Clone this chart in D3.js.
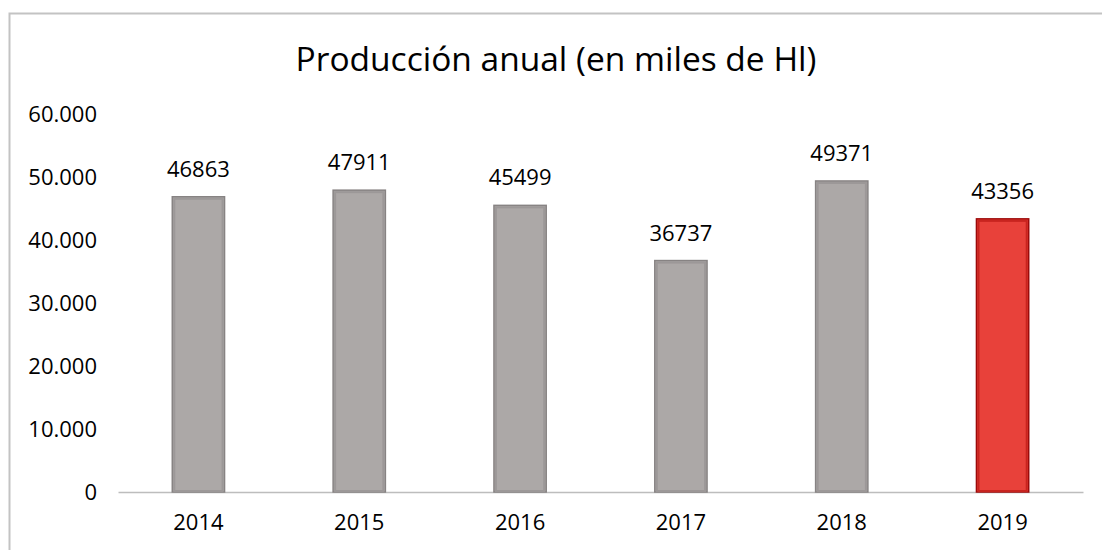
<!DOCTYPE html>
<html><head><meta charset="utf-8">
<script src="https://cdn.jsdelivr.net/npm/d3@7/dist/d3.min.js"></script>
<style>body{margin:0;background:#fff}svg{display:block}text{font-family:"Open Sans","Noto Sans",sans-serif;fill:#000}</style>
</head><body>
<svg id="c" width="1102" height="550"></svg>
<script>
const title = "Producción anual (en miles de Hl)";
const years = ["2014","2015","2016","2017","2018","2019"];
const values = [46863, 47911, 45499, 36737, 49371, 43356];
const yTicks = [0, 10000, 20000, 30000, 40000, 50000, 60000];
const highlight = ["2019"];

const svg = d3.select("#c");
// chart border (top & left visible)
svg.append("path").attr("d", `M9.5,560 V13.5 H1110`).attr("fill","none").attr("stroke","#c3c3c3").attr("stroke-width",2);

const x = d3.scaleBand().domain(years).range([118, 1083]).paddingInner(0.675).paddingOuter(0.3375);
const y = d3.scaleLinear().domain([0, 60000]).range([492, 114]);

svg.append("text").attr("x", 556).attr("y", 71).attr("text-anchor","middle")
  .style("font-size","33.5px").text(title);

const fmt = v => d3.format(",")(v).replace(/,/g,".");
const yAxis = d3.axisLeft(y).tickValues(yTicks).tickFormat(fmt).tickSize(0).tickPadding(0);
const ga = svg.append("g").attr("transform","translate(97,0)").call(yAxis);
ga.select(".domain").remove();
ga.selectAll("text").style("font-size","22px").attr("dy","0.35em").style("font-family",null);

const xAxis = d3.axisBottom(x).tickSize(0).tickPadding(0);
const gx = svg.append("g").attr("transform","translate(0,492)").call(xAxis);
gx.select(".domain").attr("stroke","#bdbdbd").attr("stroke-width",1.5);
gx.selectAll("text").style("font-size","22px").attr("dy",null).attr("y",38).style("font-family",null);

const bars = svg.append("g");
years.forEach((yr, i) => {
  const hi = highlight.includes(yr);
  const bx = x(yr), bw = x.bandwidth(), by = y(values[i]), bh = y(0) - y(values[i]);
  bars.append("rect").attr("x", bx).attr("y", by).attr("width", bw).attr("height", bh)
    .attr("fill", hi ? "#e8413a" : "#aca8a7")
    .attr("stroke", hi ? "#9c0a0a" : "#878383").attr("stroke-width", 1.5);
  bars.append("rect").attr("x", bx+2).attr("y", by+2).attr("width", bw-4).attr("height", bh-3)
    .attr("fill","none").attr("stroke", hi ? "#c8241f" : "#9c9898").attr("stroke-width", 2);
  svg.append("text").attr("x", bx + bw/2).attr("y", by - 20).attr("text-anchor","middle")
    .style("font-size","22px").text(values[i]);
});
</script></body></html>
